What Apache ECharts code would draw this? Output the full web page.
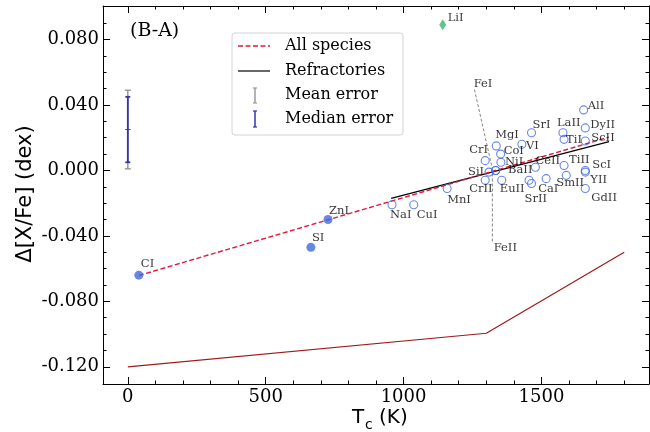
<!DOCTYPE html>
<html><head><meta charset="utf-8">
<script src="https://cdn.jsdelivr.net/npm/echarts@6/dist/echarts.min.js"></script>
<style>html,body{margin:0;padding:0;background:#fff}#c{width:650px;height:432px}</style>
</head><body><div id="c"></div>
<script>
// ---- data ----
const volatileNames = ['CI', 'SI', 'ZnI'];
const volatileTc    = [40, 664, 726];
const volatileVal   = [-0.064, -0.047, -0.030];

const lithiumNames = ['LiI'];
const lithiumTc    = [1142];
const lithiumVal   = [0.089];

const refrNames = ['NaI','CuI','MnI','CrI','CrII','SiI','FeI','FeII','MgI','CoI','NiI','EuII','VI','SrI','SrII','BaII','CeII','CaI','LaII','TiI','TiII','SmII','AlI','ScI','ScII','YII','GdII','DyII'];
const refrTc    = [958, 1037, 1158, 1296, 1296, 1310, 1334, 1334, 1336, 1352, 1353, 1356, 1429, 1464, 1464, 1455, 1478, 1517, 1578, 1582, 1582, 1590, 1653, 1659, 1659, 1659, 1659, 1659];
const refrVal   = [-0.021, -0.021, -0.011, 0.006, -0.006, -0.001, 0.000, 0.000, 0.015, 0.010, 0.005, -0.006, 0.016, 0.023, -0.008, -0.006, 0.002, -0.005, 0.023, 0.019, 0.003, -0.003, 0.037, 0.000, 0.018, -0.001, -0.011, 0.026];

const allSpeciesTc  = [40, 1745];
const allSpeciesVal = [-0.0642, 0.0204];
const refrFitTc     = [955, 1745];
const refrFitVal    = [-0.0171, 0.0176];
const trendTc       = [0, 1300, 1800];
const trendVal      = [-0.120, -0.0995, -0.050];

const errTc = 0, errCenter = 0.025, meanErr = 0.024, medianErr = 0.020;

const feILeaderTc = [1257, 1322], feILeaderVal = [0.0495, 0.001];
const feIILeaderTc = [1322, 1322], feIILeaderVal = [-0.0434, -0.001];

const xMajor = [0, 500, 1000, 1500];
const xMinor = [100,200,300,400,600,700,800,900,1100,1200,1300,1400,1600,1700,1800];
const yMajor = [-0.12, -0.08, -0.04, 0, 0.04, 0.08];
const yMinor = [-0.11,-0.10,-0.09,-0.07,-0.06,-0.05,-0.03,-0.02,-0.01,0.01,0.02,0.03,0.05,0.06,0.07,0.09];

// ---- label placement (pixel offsets: text left, text middle) ----
const labelOffset = {
  CI:[2,-11], SI:[1,-9], ZnI:[1,-9], LiI:[5,-7],
  NaI:[-2,10], CuI:[3,10], MnI:[0,12], CrI:[-16,-11], CrII:[-16,9], SiI:[-21,0],
  FeI:[-22,-86], FeII:[-2,78], MgI:[-1,-11], CoI:[3,-3], NiI:[4,0], EuII:[-2,9],
  VI:[4,2], SrI:[1,-8], SrII:[-7,15], BaII:[-21,-10], CeII:[0,-6], CaI:[-8,10],
  LaII:[-6,-10], TiI:[2,1], TiII:[5,-6], SmII:[-10,8], AlI:[4,-4], ScI:[7,-5],
  ScII:[6,-3], YII:[5,8], GdII:[6,10], DyII:[5,-3]
};

const SERIF = '"DejaVu Serif", serif';
const SANS = '"DejaVu Sans", sans-serif';
const zip = (a, b) => a.map((v, i) => [v, b[i]]);
function pts(names, tc, val) {
  return names.map((n, i) => ({
    name: n, value: [tc[i], val[i]],
    label: {show: true, formatter: n, position: 'inside', align: 'left', verticalAlign: 'middle',
            offset: labelOffset[n], color: '#000', fontFamily: SERIF, fontSize: 11.5}
  }));
}

function errBar(color, width, capW) {
  return function (params, api) {
    const x = api.value(0), c = api.value(1), e = api.value(2);
    const t = api.coord([x, c + e]), b = api.coord([x, c - e]), m = api.coord([x, c]);
    const st = {stroke: color, lineWidth: width};
    return {type: 'group', children: [
      {type: 'line', shape: {x1: t[0], y1: t[1], x2: b[0], y2: b[1]}, style: st},
      {type: 'line', shape: {x1: t[0]-capW, y1: t[1], x2: t[0]+capW, y2: t[1]}, style: st},
      {type: 'line', shape: {x1: b[0]-capW, y1: b[1], x2: b[0]+capW, y2: b[1]}, style: st},
      {type: 'line', shape: {x1: m[0]-capW, y1: m[1], x2: m[0]+capW, y2: m[1]}, style: {stroke: color, lineWidth: 0.8}}
    ]};
  };
}

const XMIN = -90, XMAX = 1890, YMIN = -0.1305, YMAX = 0.1005;
function xAx(pos, ticks, len, labels, line) {
  return {type: 'value', min: XMIN, max: XMAX, position: pos,
    axisLine: {show: line, onZero: false, lineStyle: {color: '#000', width: 1}},
    axisTick: {show: true, inside: true, length: len, customValues: ticks, lineStyle: {color: '#000', width: 1}},
    axisLabel: {show: labels, customValues: ticks, formatter: v => String(v), color: '#000', fontFamily: SERIF, fontSize: 18, margin: 4},
    splitLine: {show: false}};
}
function yAx(pos, ticks, len, labels, line) {
  return {type: 'value', min: YMIN, max: YMAX, position: pos,
    axisLine: {show: line, onZero: false, lineStyle: {color: '#000', width: 1}},
    axisTick: {show: true, inside: true, length: len, customValues: ticks, lineStyle: {color: '#000', width: 1}},
    axisLabel: {show: labels, customValues: ticks, formatter: v => v.toFixed(3), color: '#000', fontFamily: SERIF, fontSize: 18, margin: 4},
    splitLine: {show: false}};
}

const chart = echarts.init(document.getElementById('c'), null, {renderer: 'canvas'});
chart.setOption({
  animation: false,
  backgroundColor: '#fff',
  grid: {left: 103, right: 1, top: 6, bottom: 48, containLabel: false},
  xAxis: [xAx('bottom', xMajor, 7, true, true), xAx('bottom', xMinor, 3.5, false, false),
          xAx('top', xMajor, 7, false, true), xAx('top', xMinor, 3.5, false, false)],
  yAxis: [yAx('left', yMajor, 7, true, true), yAx('left', yMinor, 3.5, false, false),
          yAx('right', yMajor, 7, false, true), yAx('right', yMinor, 3.5, false, false)],
  series: [
    {type: 'line', data: zip(trendTc, trendVal), symbol: 'none', lineStyle: {color: '#9e1a1a', width: 1.2}, z: 2},
    {type: 'line', data: zip(feILeaderTc, feILeaderVal), symbol: 'none', lineStyle: {color: '#777', width: 0.9, type: [3, 2]}, z: 2},
    {type: 'line', data: zip(feIILeaderTc, feIILeaderVal), symbol: 'none', lineStyle: {color: '#777', width: 0.9, type: [3, 2]}, z: 2},
    {type: 'line', data: zip(refrFitTc, refrFitVal), symbol: 'none', lineStyle: {color: '#000', width: 1.2}, z: 3},
    {type: 'line', data: zip(allSpeciesTc, allSpeciesVal), symbol: 'none', lineStyle: {color: '#e0193f', width: 1.4, type: [5, 2.5]}, z: 4},
    {type: 'custom', renderItem: errBar('#9a9a9a', 1.5, 3), data: [[errTc, errCenter, meanErr]], z: 5},
    {type: 'custom', renderItem: errBar('#3434a8', 1.8, 2.5), data: [[errTc, errCenter, medianErr]], z: 6},
    {type: 'scatter', data: pts(refrNames, refrTc, refrVal), symbol: 'circle', symbolSize: 8,
      itemStyle: {color: 'rgba(0,0,0,0)', borderColor: '#4169e1', borderWidth: 1.1}, z: 7},
    {type: 'scatter', data: pts(volatileNames, volatileTc, volatileVal), symbol: 'circle', symbolSize: 9,
      itemStyle: {color: '#4169e1'}, z: 7},
    {type: 'scatter', data: pts(lithiumNames, lithiumTc, lithiumVal), symbol: 'diamond', symbolSize: [7, 11],
      itemStyle: {color: '#3cb371'}, z: 7}
  ],
  graphic: [
    {type: 'text', left: 130, top: 22, style: {text: '(B-A)', font: '19px ' + SERIF, fill: '#000'}},
    {type: 'text', x: 26, y: 194, rotation: Math.PI / 2,
      style: {text: 'Δ[X/Fe] (dex)', font: '21px ' + SANS, fill: '#000', align: 'center', verticalAlign: 'middle'}},
    {type: 'text', x: 352, y: 418, style: {text: 'T', font: '20px ' + SANS, fill: '#000', align: 'left', verticalAlign: 'middle'}},
    {type: 'text', x: 365, y: 425, style: {text: 'c', font: '14px ' + SANS, fill: '#000', align: 'left', verticalAlign: 'middle'}},
    {type: 'text', x: 379, y: 418, style: {text: '(K)', font: '20px ' + SANS, fill: '#000', align: 'left', verticalAlign: 'middle'}},
    // legend
    {type: 'rect', shape: {x: 232, y: 33, width: 171, height: 102, r: 3}, style: {fill: 'rgba(255,255,255,0.85)', stroke: '#d4d4d4', lineWidth: 1}, z: 20},
    {type: 'line', shape: {x1: 238, y1: 46, x2: 270, y2: 46}, style: {stroke: '#e0193f', lineWidth: 1.4, lineDash: [5, 2.5]}, z: 21},
    {type: 'line', shape: {x1: 238, y1: 71, x2: 270, y2: 71}, style: {stroke: '#000', lineWidth: 1.2}, z: 21},
    {type: 'line', shape: {x1: 255, y1: 88, x2: 255, y2: 103}, style: {stroke: '#9a9a9a', lineWidth: 1.5}, z: 21},
    {type: 'line', shape: {x1: 253, y1: 88, x2: 257, y2: 88}, style: {stroke: '#9a9a9a', lineWidth: 1.2}, z: 21},
    {type: 'line', shape: {x1: 253, y1: 103, x2: 257, y2: 103}, style: {stroke: '#9a9a9a', lineWidth: 1.2}, z: 21},
    {type: 'line', shape: {x1: 255, y1: 111, x2: 255, y2: 127}, style: {stroke: '#3434a8', lineWidth: 1.5}, z: 21},
    {type: 'line', shape: {x1: 253, y1: 111, x2: 257, y2: 111}, style: {stroke: '#3434a8', lineWidth: 1.2}, z: 21},
    {type: 'line', shape: {x1: 253, y1: 127, x2: 257, y2: 127}, style: {stroke: '#3434a8', lineWidth: 1.2}, z: 21},
    {type: 'text', x: 285, y: 46, style: {text: 'All species', font: '16px ' + SERIF, fill: '#000', verticalAlign: 'middle'}, z: 21},
    {type: 'text', x: 285, y: 71, style: {text: 'Refractories', font: '16px ' + SERIF, fill: '#000', verticalAlign: 'middle'}, z: 21},
    {type: 'text', x: 285, y: 95, style: {text: 'Mean error', font: '16px ' + SERIF, fill: '#000', verticalAlign: 'middle'}, z: 21},
    {type: 'text', x: 285, y: 119, style: {text: 'Median error', font: '16px ' + SERIF, fill: '#000', verticalAlign: 'middle'}, z: 21}
  ]
});
</script></body></html>
